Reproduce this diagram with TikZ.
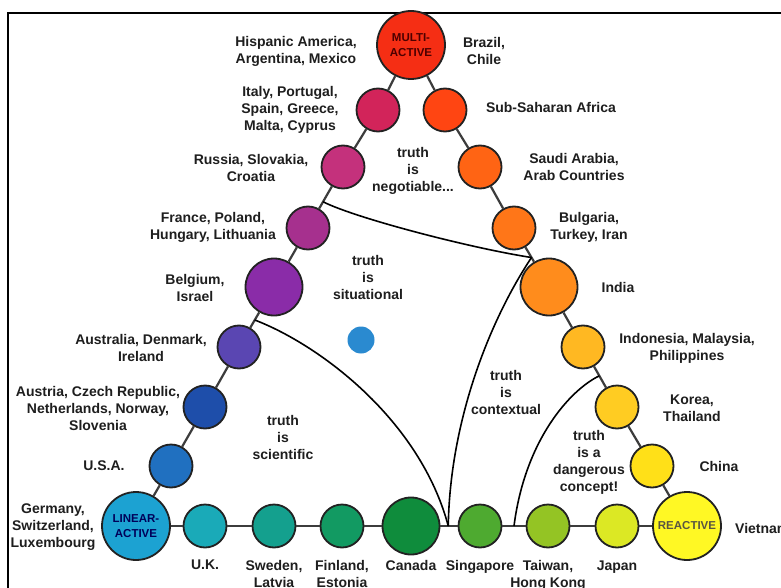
\documentclass[tikz,border=0pt]{standalone}
\usepackage{fontspec}
\setmainfont{Liberation Sans}
\usetikzlibrary{calc}
\definecolor{cMulti}{HTML}{F52E14}
\definecolor{cItaly}{HTML}{D2245A}
\definecolor{cSub}{HTML}{FF4512}
\definecolor{cRussia}{HTML}{C4317C}
\definecolor{cSaudi}{HTML}{FF6414}
\definecolor{cFrance}{HTML}{A6308E}
\definecolor{cBulg}{HTML}{FF7618}
\definecolor{cBelg}{HTML}{8A2CA8}
\definecolor{cIndia}{HTML}{FF8C1C}
\definecolor{cAustl}{HTML}{5A46B2}
\definecolor{cIndo}{HTML}{FFB822}
\definecolor{cAustr}{HTML}{1E4EAA}
\definecolor{cKorea}{HTML}{FFCC22}
\definecolor{cUSA}{HTML}{2070C0}
\definecolor{cChina}{HTML}{FFE018}
\definecolor{cLinear}{HTML}{1CA2D2}
\definecolor{cReact}{HTML}{FFF824}
\definecolor{cUK}{HTML}{1AAAB8}
\definecolor{cSweden}{HTML}{14A08E}
\definecolor{cFinland}{HTML}{129A62}
\definecolor{cCanada}{HTML}{0F8C3C}
\definecolor{cSing}{HTML}{4EAA30}
\definecolor{cTaiwan}{HTML}{94C424}
\definecolor{cJapan}{HTML}{DCE824}
\definecolor{cDot}{HTML}{2A8AD0}
\definecolor{ringc}{HTML}{222222}
\definecolor{edgec}{HTML}{3C3C3C}
\definecolor{txtc}{HTML}{1E1E1E}
\begin{document}
\begin{tikzpicture}[x=1pt,y=-1pt,
  ball/.style={circle,draw=ringc,line width=1.8pt,inner sep=0pt},
  smallb/.style={minimum size=43pt},
  midb/.style={minimum size=57pt},
  bigb/.style={minimum size=68pt},
  inner/.style={font=\bfseries\fontsize{11.5}{15}\selectfont,align=center},
  lab/.style={font=\bfseries\fontsize{14}{17}\selectfont,align=center,text=txtc,inner sep=0pt},
  edge/.style={draw=edgec,line width=2.2pt},
  bound/.style={draw=black,line width=1.6pt}
]
\useasboundingbox (0,0) rectangle (781,588);
\fill[white] (0,0) rectangle (781,588);
\draw[line width=2.6pt] (8,600) -- (8,13) -- (800,13);

% circles
\node[ball,bigb,fill=cMulti,inner,text=black!70!red] (multi) at (411,45) {MULTI-\\ACTIVE};
\node[ball,smallb,fill=cItaly] (italy) at (378,110) {};
\node[ball,smallb,fill=cSub] (sub) at (445,110) {};
\node[ball,smallb,fill=cRussia] (russia) at (343,167) {};
\node[ball,smallb,fill=cSaudi] (saudi) at (480,167) {};
\node[ball,smallb,fill=cFrance] (france) at (308,228) {};
\node[ball,smallb,fill=cBulg] (bulg) at (514,228) {};
\node[ball,midb,fill=cBelg] (belg) at (274,287) {};
\node[ball,midb,fill=cIndia] (india) at (549,287) {};
\node[ball,smallb,fill=cAustl] (austl) at (239,347) {};
\node[ball,smallb,fill=cIndo] (indo) at (583,347) {};
\node[ball,smallb,fill=cAustr] (austr) at (205,407) {};
\node[ball,smallb,fill=cKorea] (korea) at (617,407) {};
\node[ball,smallb,fill=cUSA] (usa) at (171,466) {};
\node[ball,smallb,fill=cChina] (china) at (652,466) {};
\node[ball,bigb,fill=cLinear,inner,text=black!65!blue] (linear) at (136,526) {LINEAR-\\ACTIVE};
\node[ball,bigb,fill=cReact,inner,text=black!75!yellow] (react) at (687,526) {REACTIVE};
\node[ball,smallb,fill=cUK] (uk) at (205,526) {};
\node[ball,smallb,fill=cSweden] (sweden) at (274,526) {};
\node[ball,smallb,fill=cFinland] (finland) at (342,526) {};
\node[ball,midb,fill=cCanada] (canada) at (411,526) {};
\node[ball,smallb,fill=cSing] (sing) at (480,526) {};
\node[ball,smallb,fill=cTaiwan] (taiwan) at (548,526) {};
\node[ball,smallb,fill=cJapan] (japan) at (617,526) {};
\node[circle,fill=cDot,minimum size=27pt,inner sep=0pt] (dot) at (361,340) {};

% connectors
\draw[edge] (linear) -- (usa) -- (austr) -- (austl) -- (belg) -- (france) -- (russia) -- (italy) -- (multi);
\draw[edge] (multi) -- (sub) -- (saudi) -- (bulg) -- (india) -- (indo) -- (korea) -- (china) -- (react);
\draw[edge] (linear) -- (uk) -- (sweden) -- (finland) -- (canada) -- (sing) -- (taiwan) -- (japan) -- (react);

% junctions
\coordinate (jA) at ($(russia)!0.57!(france)$);
\coordinate (jB) at ($(bulg)!0.5!(india)$);
\coordinate (jC) at ($(belg)!0.55!(austl)$);
\coordinate (jD) at ($(canada)!0.54!(sing)$);
\coordinate (jE) at ($(indo)!0.48!(korea)$);
\coordinate (jF) at ($(sing)!0.5!(taiwan)$);

% boundaries
\draw[bound] (jA) .. controls (355,218) and (470,248) .. (jB);
\draw[bound] (jB) .. controls (490,320) and (450,420) .. (jD);
\draw[bound] (jC) .. controls (320,345) and (420,420) .. (jD);
\draw[bound] (jE) .. controls (570,390) and (525,440) .. (jF);

% labels
\node[lab] (lHisp) at (296,51) {Hispanic America,\\Argentina, Mexico};
\node[lab] (lBraz) at (484,51) {Brazil,\\Chile};
\node[lab] (lItaly) at (290,110) {Italy, Portugal,\\Spain, Greece,\\Malta, Cyprus};
\node[lab] (lSub) at (551,107) {Sub-Saharan Africa};
\node[lab] (lRussia) at (251,168) {Russia, Slovakia,\\Croatia};
\node[lab] (tNeg) at (413,171) {truth\\is\\negotiable...};
\node[lab] (lSaudi) at (574,167) {Saudi Arabia,\\Arab Countries};
\node[lab] (lFrance) at (213,227) {France, Poland,\\Hungary, Lithuania};
\node[lab] (lBulg) at (589,227) {Bulgaria,\\Turkey, Iran};
\node[lab] (lBelg) at (195,288) {Belgium,\\Israel};
\node[lab] (tSit) at (368,277) {truth\\is\\situational};
\node[lab] (lIndia) at (618,287) {India};
\node[lab] (lAustl) at (141,348) {Australia, Denmark,\\Ireland};
\node[lab] (lIndo) at (687,348) {Indonesia, Malaysia,\\Philippines};
\node[lab] (lAustr) at (98,408) {Austria, Czech Republic,\\Netherlands, Norway,\\Slovenia};
\node[lab] (lKorea) at (692,408) {Korea,\\Thailand};
\node[lab] (tCon) at (506,392) {truth\\is\\contextual};
\node[lab] (tSci) at (283,437) {truth\\is\\scientific};
\node[lab] (lUSA) at (104,466) {U.S.A.};
\node[lab] (tDan) at (589,462) {truth\\is a\\dangerous\\concept!};
\node[lab] (lChina) at (719,466) {China};
\node[lab] (lGer) at (53,527) {Germany,\\Switzerland,\\Luxembourg};
\node[lab,anchor=west] (lViet) at (735,528) {Vietnam};
\node[lab,anchor=north] (lUK) at (205,560) {U.K.};
\node[lab,anchor=north] (lSweden) at (274,560) {Sweden,\\Latvia};
\node[lab,anchor=north] (lFinland) at (342,560) {Finland,\\Estonia};
\node[lab,anchor=north] (lCanada) at (411,560) {Canada};
\node[lab,anchor=north] (lSing) at (480,560) {Singapore};
\node[lab,anchor=north] (lTaiwan) at (548,560) {Taiwan,\\Hong Kong};
\node[lab,anchor=north] (lJapan) at (617,561) {Japan};
\end{tikzpicture}
\end{document}
